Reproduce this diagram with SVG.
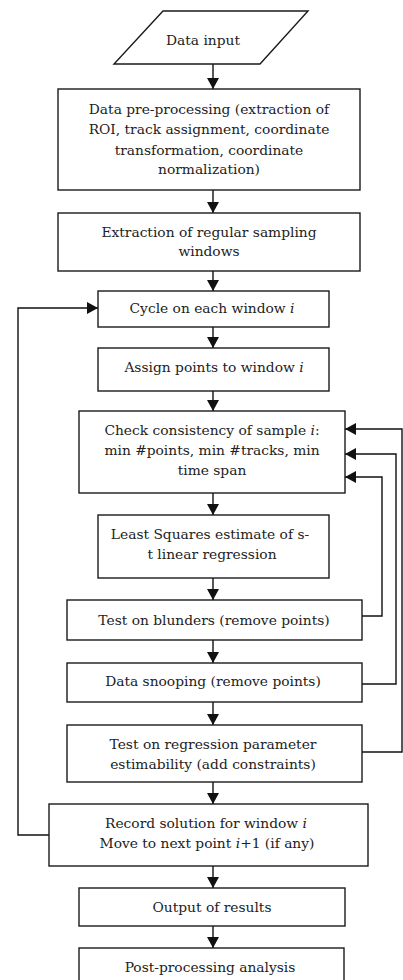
<svg xmlns="http://www.w3.org/2000/svg" width="403" height="980" viewBox="0 0 403 980">
<style>
.box{fill:#fff;stroke:#1a1a1a;stroke-width:1.4}
.t{font-family:'DejaVu Serif','Liberation Serif',serif;font-size:13.8px;fill:#222;text-anchor:middle}
.c{fill:none;stroke:#111;stroke-width:1.4}
.i{font-style:italic}
</style>
<defs>
<marker id="ah" markerUnits="userSpaceOnUse" markerWidth="12" markerHeight="12" refX="11" refY="6" orient="auto">
<path d="M0,0 L11,6 L0,12 z" fill="#111"/>
</marker>
</defs>
<rect width="403" height="980" fill="#fff"/>
<g id="connectors">
<line class="c" x1="213" y1="64" x2="213" y2="89" marker-end="url(#ah)"/>
<line class="c" x1="213" y1="190" x2="213" y2="213" marker-end="url(#ah)"/>
<line class="c" x1="213" y1="271" x2="213" y2="291" marker-end="url(#ah)"/>
<line class="c" x1="213" y1="327" x2="213" y2="348" marker-end="url(#ah)"/>
<line class="c" x1="213" y1="391" x2="213" y2="411" marker-end="url(#ah)"/>
<line class="c" x1="213" y1="493" x2="213" y2="515" marker-end="url(#ah)"/>
<line class="c" x1="213" y1="578" x2="213" y2="600" marker-end="url(#ah)"/>
<line class="c" x1="213" y1="640" x2="213" y2="663" marker-end="url(#ah)"/>
<line class="c" x1="213" y1="702" x2="213" y2="725" marker-end="url(#ah)"/>
<line class="c" x1="213" y1="782" x2="213" y2="804" marker-end="url(#ah)"/>
<line class="c" x1="213" y1="866" x2="213" y2="888" marker-end="url(#ah)"/>
<line class="c" x1="213" y1="926" x2="213" y2="948" marker-end="url(#ah)"/>
<polyline class="c" points="362,752 402,752 402,429 345,429" marker-end="url(#ah)"/>
<polyline class="c" points="362,684 396,684 396,454 345,454" marker-end="url(#ah)"/>
<polyline class="c" points="362,616 382,616 382,477 345,477" marker-end="url(#ah)"/>
<polyline class="c" points="49,835 18,835 18,308 98,308" marker-end="url(#ah)"/>
</g>
<g id="n1"><polygon class="box" points="163,11 308,11 260,64 114,64"/><text class="t" x="203" y="45">Data input</text></g>
<g id="n2"><rect class="box" x="58" y="89" width="302" height="101"/>
<text class="t" x="209" y="114">Data pre-processing (extraction of</text>
<text class="t" x="209" y="134">ROI, track assignment, coordinate</text>
<text class="t" x="209" y="155">transformation, coordinate</text>
<text class="t" x="209" y="174">normalization)</text></g>
<g id="n3"><rect class="box" x="58" y="213" width="302" height="58"/>
<text class="t" x="209" y="237">Extraction of regular sampling</text>
<text class="t" x="209" y="256">windows</text></g>
<g id="n4"><rect class="box" x="98" y="291" width="231" height="36"/>
<text class="t" x="212" y="313">Cycle on each window <tspan class="i">i</tspan></text></g>
<g id="n5"><rect class="box" x="98" y="348" width="231" height="43"/>
<text class="t" x="214" y="372">Assign points to window <tspan class="i">i</tspan></text></g>
<g id="n6"><rect class="box" x="79" y="411" width="266" height="82"/>
<text class="t" x="212" y="435">Check consistency of sample <tspan class="i">i</tspan>:</text>
<text class="t" x="212" y="455">min #points, min #tracks, min</text>
<text class="t" x="212" y="475">time span</text></g>
<g id="n7"><rect class="box" x="98" y="515" width="231" height="63"/>
<text class="t" x="210" y="539">Least Squares estimate of s-</text>
<text class="t" x="212" y="559">t linear regression</text></g>
<g id="n8"><rect class="box" x="67" y="600" width="295" height="40"/>
<text class="t" x="214" y="625">Test on blunders (remove points)</text></g>
<g id="n9"><rect class="box" x="67" y="663" width="295" height="39"/>
<text class="t" x="213" y="686">Data snooping (remove points)</text></g>
<g id="n10"><rect class="box" x="67" y="725" width="295" height="57"/>
<text class="t" x="213" y="749">Test on regression parameter</text>
<text class="t" x="213" y="769">estimability (add constraints)</text></g>
<g id="n11"><rect class="box" x="49" y="804" width="319" height="62"/>
<text class="t" x="206" y="828">Record solution for window <tspan class="i">i</tspan></text>
<text class="t" x="207" y="848">Move to next point <tspan class="i">i</tspan>+1 (if any)</text></g>
<g id="n12"><rect class="box" x="79" y="888" width="266" height="38"/>
<text class="t" x="212" y="912">Output of results</text></g>
<g id="n13"><rect class="box" x="79" y="948" width="265" height="45"/>
<text class="t" x="210" y="972">Post-processing analysis</text></g>
</svg>
